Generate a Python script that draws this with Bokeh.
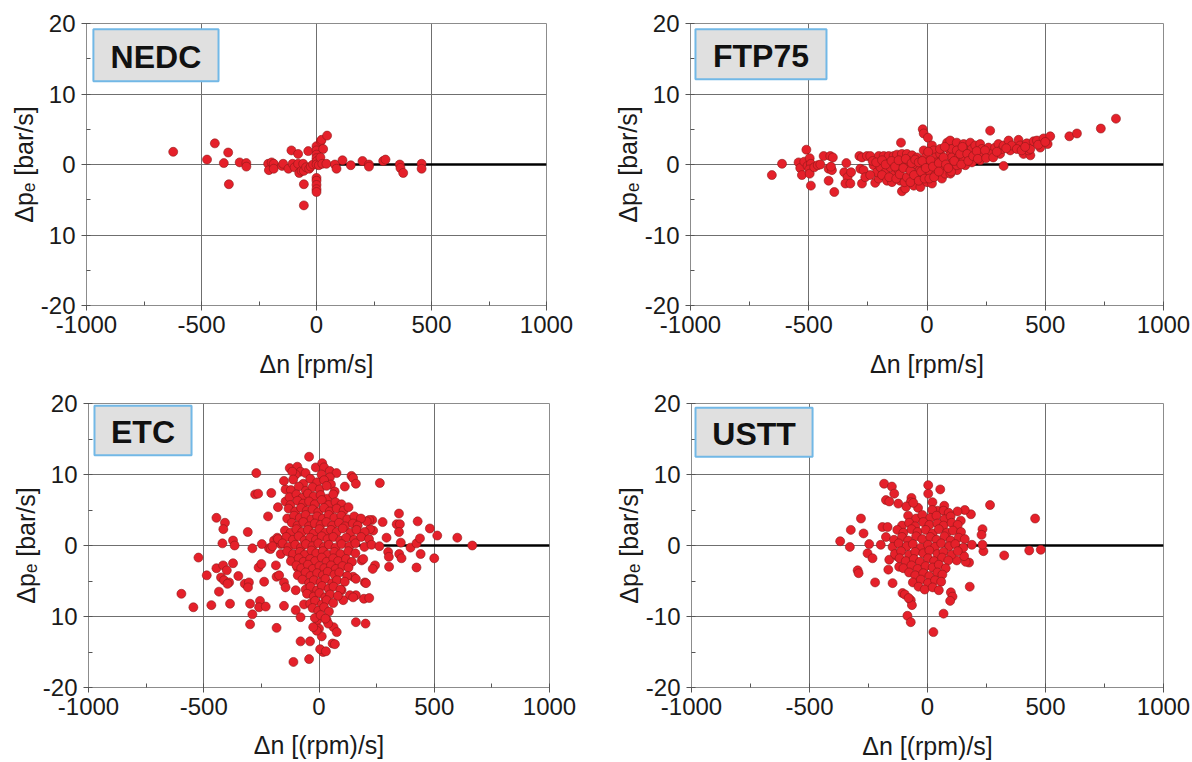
from bokeh.plotting import figure
from bokeh.layouts import column, row
from bokeh.models import FixedTicker, Range1d, BoxAnnotation, Label
from bokeh.embed import file_html
from bokeh.resources import INLINE

# ---------------- data ----------------
x_ticks = [-1000, -500, 0, 500, 1000]
x_minor = [-750, -250, 250, 750]
y_ticks = [-20, -10, 0, 10, 20]
y_minor = [-15, -5, 5, 15]
x_tick_labels = {-1000: "-1000", -500: "-500", 0: "0", 500: "500", 1000: "1000"}
y_tick_labels_a = {-20: "-20", -10: "10", 0: "0", 10: "10", 20: "20"}    # NEDC, ETC (as printed)
y_tick_labels_b = {-20: "-20", -10: "-10", 0: "0", 10: "10", 20: "20"}   # FTP75, USTT

zero_line_x = [0, 1000]
zero_line_y = [0, 0]

nedc_points = [
    (-623, 1.8), (-476, 0.7), (-442, 3.0), (-384, 1.7), (-403, 0.2), (-381, -2.8), (-334, 0.3),
    (-305, 0.2), (-305, -0.3), (-210, 0.1), (-207, -0.8), (-195, 0.3), (-186, 0.1), (-186, -0.6),
    (-150, -0.2), (-145, 0.1), (-122, -0.6), (-109, 2.0), (-104, 0.1), (-95, -0.4), (-80, 1.5),
    (-80, 0.1), (-75, -1.2), (-65, -0.9), (-58, 0.1), (-55, -0.9), (-55, -2.8), (-55, -5.8),
    (-45, -0.4), (-36, 1.9), (-32, -0.6), (-25, -0.3), (-15, 0.0), (0, 2.6), (0, 2.0), (0, 1.4),
    (0, 0.9), (2, 0.5), (0, 0.0), (0, -1.9), (0, -2.3), (0, -2.9), (0, -3.5), (0, -3.9), (10, -0.1),
    (19, 3.3), (22, 3.5), (29, 2.2), (46, 4.1), (17, 1.0), (25, 0.1), (43, 0.1), (80, 0.0),
    (87, -0.6), (113, 0.6), (149, -0.1), (200, 0.5), (228, 0.0), (228, -0.3), (290, 0.5),
    (300, 0.7), (362, 0.0), (365, -0.5), (377, -1.2), (457, 0.1), (457, -0.6),
]

ftp75_points = [
    (-656, -1.5), (-613, 0.1), (-510, 2.1), (-543, 0.3), (-536, -0.5), (-519, 0.4), (-505, -0.2),
    (-496, 0.9), (-491, 0.1), (-498, -0.7), (-529, -1.5), (-496, -1.3), (-477, -0.4), (-462, -0.1),
    (-451, 0.0), (-491, -3.0), (-437, 1.2), (-409, 1.2), (-398, 1.0), (-416, -0.6), (-402, -0.8),
    (-406, -0.3), (-416, -2.3), (-392, -3.9), (-341, 0.2), (-350, -1.1), (-336, -1.8), (-345, -2.7),
    (-324, -2.7), (-321, -1.1), (-286, 1.2), (-282, -0.6), (-275, -2.7), (-268, -0.8), (-261, -1.8),
    (-275, 1.0), (-254, 1.2), (-240, 1.2), (-226, -0.1), (-219, -2.6), (-204, -2.0), (-212, -1.1),
    (-204, 1.2), (-183, 1.2), (-162, 1.2), (-141, 1.2), (-197, -0.4), (-176, -1.1), (-190, -1.5),
    (-169, -2.3), (-155, -0.4), (-141, -1.5), (-148, -2.5), (-127, 0.3), (-120, -0.8), (-113, -2.3),
    (-106, -3.8), (-92, -3.4), (-127, 1.4), (-106, 1.5), (-85, 1.5), (-63, 1.3), (-42, 1.0),
    (-110, 3.1), (-99, 0.1), (-78, -0.4), (-63, -1.3), (-49, -2.0), (-56, -3.0), (-28, -3.2),
    (-78, 0.5), (-42, -0.1), (-31, -0.8), (-14, -1.5), (0, -2.5), (-18, 5.0), (-14, 4.4), (4, 3.8),
    (-14, 2.0), (-7, 1.0), (0, 0.3), (7, -0.4), (14, -1.1), (21, 2.7), (28, 2.0), (35, 1.0),
    (42, 0.3), (42, -0.6), (35, -1.5), (21, -2.7), (56, 1.5), (63, 0.6), (70, -0.4), (63, -2.0),
    (77, -1.3), (85, 3.1), (92, 2.2), (99, 1.3), (106, 0.3), (106, -0.6), (99, -1.3), (113, 2.9),
    (124, 2.0), (127, 1.0), (127, -0.8), (98, 3.4), (105, 2.2), (105, 1.0), (102, 0.1), (102, -1.0),
    (126, 3.1), (126, 2.0), (133, 1.0), (126, -0.1), (155, 2.9), (162, 2.0), (155, 0.8), (162, -0.1),
    (183, 3.1), (190, 2.2), (183, 1.0), (190, 0.3), (204, 2.7), (225, 2.9), (232, 2.2), (225, 0.6),
    (239, 1.5), (267, 4.8), (260, 2.4), (274, 1.5), (288, 2.4), (302, 2.9), (309, 1.5), (317, 2.2),
    (324, -0.2), (324, 2.7), (345, 3.4), (352, 2.0), (359, 2.7), (387, 3.5), (394, 2.7), (408, 1.5),
    (422, 3.0), (437, 1.3), (429, 2.0), (437, 2.2), (451, 3.3), (465, 3.4), (479, 2.4), (493, 3.7),
    (510, 2.9), (521, 4.0), (602, 4.0), (634, 4.4), (735, 5.1), (799, 6.5),
    (-240, -1.5), (-230, 0.5), (-215, 0.3), (-190, 0.6), (-175, 0.0), (-160, -1.8), (-150, 0.5),
    (-135, -0.3), (-130, -2.0), (-120, 0.6), (-115, -1.4), (-100, -0.5), (-95, -2.5), (-90, 0.8),
    (-85, -1.8), (-70, -0.9), (-70, -2.5), (-65, 0.2), (-55, -1.5), (-50, 0.7), (-35, -2.3),
    (-35, 0.3), (-25, -1.0), (-20, 0.5), (-10, -2.0), (-5, -0.5), (5, 1.8), (10, -2.0), (15, 0.6),
    (25, -0.3), (30, -1.8), (50, 0.2), (50, -1.0), (55, 2.2), (70, 1.0), (75, 2.5), (80, 0.0),
    (90, -0.5), (115, 0.5), (140, 1.5), (145, 0.0), (150, 2.5), (170, 1.5), (175, 0.5), (195, 1.2),
    (210, 1.9), (215, 0.8), (245, 2.0), (250, 0.9), (280, 1.0), (295, 1.8), (335, 2.3), (380, 2.2),
    (400, 2.0), (415, 2.5), (470, 2.8), (500, 3.2),
]

etc_points = [
    (-43, 12.5), (-127, 10.9), (-94, 11.1), (-80, 10.4), (-58, 10.2), (-101, 10.0), (-116, 10.4),
    (-14, 11.0), (14, 11.6), (22, 11.0), (-272, 10.2), (-277, 7.2), (-264, 7.3), (-207, 7.4),
    (-221, 4.1), (-178, 5.4), (-145, 6.2), (-145, 7.9), (-152, 9.1), (-445, 3.9), (-408, 3.2),
    (-415, 2.3), (-309, 1.9), (-419, 0.3), (-373, 0.7), (-366, 0.0), (-289, -0.4), (-523, -1.7),
    (-217, -0.4), (-195, 0.7), (-181, 1.1), (-166, 0.2), (-166, -1.2), (-187, -2.8), (-210, -0.5),
    (-445, -3.2), (-416, -2.8), (-400, -3.5), (-373, -2.5), (-487, -4.2), (-425, -4.5), (-412, -4.9),
    (-390, -5.2), (-397, -5.4), (-350, -4.3), (-322, -5.4), (-304, -5.2), (-308, -5.9), (-262, -3.1),
    (-250, -2.6), (-238, -5.1), (-597, -6.8), (-545, -8.7), (-467, -8.4), (-386, -8.2), (-434, -6.5),
    (-299, -8.2), (-289, -9.7), (-299, -11.1), (-256, -7.8), (-260, -8.7), (-231, -8.6), (-152, -8.5),
    (-184, -4.4), (-173, -4.2), (-152, -5.2), (-145, -5.9), (-184, -11.6), (-101, -9.1), (-80, -10.1),
    (-116, -1.6), (-94, -3.1), (-101, -6.3), (-65, -8.3), (-80, -13.5), (-39, -13.5), (-111, -16.4),
    (-43, -16.0), (-22, -6.8), (-7, -10.5), (0, -11.7), (11, 10.0), (47, 10.5), (76, 10.2),
    (141, 9.8), (148, 9.5), (47, 9.6), (112, 8.3), (160, 8.7), (264, 8.8), (347, 4.5), (428, 3.4),
    (481, 2.4), (513, 1.4), (600, 1.1), (665, 0.0), (276, 3.3), (337, 3.0), (351, 3.0), (347, 1.9),
    (231, 3.6), (218, 3.6), (293, 1.1), (355, 0.4), (397, -0.3), (423, 0.3), (438, 1.0), (300, -0.9),
    (303, -1.6), (348, -1.2), (358, -1.8), (441, -1.2), (500, -1.8), (304, -3.0), (423, -3.1),
    (243, -2.8), (233, -3.3), (199, -5.2), (195, -7.5), (218, -7.4), (160, -7.0), (134, -7.0),
    (160, -10.8), (202, -11.0), (59, -13.8), (69, -13.9), (18, -15.0), (63, -11.5), (77, -12.2),
    (33, -10.5), (98, -6.3), (105, -7.7), (148, -7.3), (148, -4.4), (160, -4.7), (204, -5.3),
    (185, -2.1), (192, -1.9), (235, 2.1), (221, 2.3), (178, 3.7), (207, 3.4),
    (5, -14.6), (30, -14.9), (12, -12.8), (-10, -12.0), (40, -11.0), (-25, -11.5),
    (-112, 9.3), (-68, 8.7), (-38, 9.4), (-8, 8.9), (22, 9.2), (52, 8.6),
    (-122, 7.8), (-88, 8.3), (-57, 7.7), (-28, 8.2), (3, 7.9), (33, 8.4), (68, 7.6),
    (-128, 6.8), (-98, 7.2), (-73, 6.7), (-48, 7.3), (-23, 6.9), (7, 7.1), (37, 6.6), (62, 7.2),
    (-124, 5.7), (-93, 6.3), (-68, 5.9), (-43, 6.2), (-18, 5.8), (12, 6.4), (42, 5.7), (72, 6.1),
    (98, 5.8), (-132, 5.2), (-103, 4.8), (-78, 5.3), (-53, 4.9), (-28, 5.1), (-3, 4.7), (22, 5.3),
    (47, 4.8), (77, 5.2), (107, 4.9), (128, 5.4), (-138, 3.8), (-108, 4.2), (-83, 3.9), (-58, 4.3),
    (-33, 3.7), (-8, 4.1), (17, 3.8), (42, 4.3), (67, 3.9), (97, 4.2), (123, 3.7), (153, 4.1),
    (182, 3.8), (-118, 3.2), (-93, 2.8), (-68, 3.3), (-43, 2.7), (-18, 3.1), (7, 2.9), (32, 3.3),
    (57, 2.8), (87, 3.2), (113, 2.7), (147, 3.1), (168, 2.8), (-148, 2.1), (-123, 1.8), (-98, 2.3),
    (-73, 1.9), (-48, 2.2), (-23, 1.7), (2, 2.3), (27, 1.8), (52, 2.2), (77, 1.9), (103, 2.4),
    (137, 1.8), (163, 2.2), (198, 1.9), (-178, 0.9), (-142, 1.2), (-113, 0.8), (-88, 1.3),
    (-63, 0.7), (-38, 1.1), (-13, 0.8), (12, 1.3), (37, 0.9), (62, 1.2), (92, 0.7), (118, 1.1),
    (152, 0.8), (183, 1.2), (217, 0.9), (-248, 0.2), (-202, -0.1), (-158, 0.3), (-132, -0.2),
    (-103, 0.1), (-78, -0.3), (-57, 0.2), (-28, -0.1), (-3, 0.3), (22, -0.2), (43, 0.1), (72, -0.3),
    (98, 0.2), (132, -0.1), (158, 0.3), (197, -0.2), (228, 0.1), (262, -0.1), (-138, -0.8),
    (-112, -1.2), (-83, -0.9), (-62, -1.3), (-33, -0.7), (-12, -1.1), (17, -0.8), (38, -1.3),
    (67, -0.9), (93, -1.2), (127, -0.8), (158, -1.1), (-122, -2.2), (-88, -1.8), (-67, -2.3),
    (-38, -1.9), (-17, -2.2), (12, -1.7), (33, -2.3), (62, -1.8), (83, -2.2), (117, -1.9),
    (143, -2.3), (-98, -2.8), (-77, -3.2), (-48, -2.7), (-27, -3.3), (2, -2.9), (23, -3.2),
    (52, -2.8), (73, -3.3), (102, -2.9), (128, -3.1), (-92, -4.2), (-58, -3.8), (-37, -4.3),
    (-8, -3.9), (17, -4.2), (38, -3.7), (67, -4.1), (88, -3.8), (122, -4.3), (-72, -4.8),
    (-43, -5.3), (-22, -4.9), (7, -5.2), (28, -4.7), (57, -5.3), (78, -4.9), (112, -5.1),
    (-58, -6.2), (-37, -5.8), (-8, -6.3), (13, -5.7), (42, -6.1), (63, -5.8), (93, -6.2),
    (-52, -6.8), (-23, -7.2), (2, -6.7), (27, -7.3), (48, -6.9), (82, -7.1), (-38, -8.2),
    (-17, -7.8), (12, -8.3), (33, -7.7), (62, -8.1), (-28, -8.8), (-3, -9.2), (22, -8.7),
    (43, -9.3), (-18, -10.2), (7, -9.8), (28, -10.3),
]

ustt_points = [
    (-184, 8.7), (-151, 8.3), (-141, 7.3), (3, 8.5), (3, 7.3), (54, 7.9), (-176, 6.4), (-162, 6.2),
    (-124, 5.9), (-68, 6.7), (-71, 6.1), (21, 6.1), (42, 4.9), (71, 5.6), (68, 4.9), (265, 5.7),
    (456, 3.8), (-282, 3.8), (-325, 2.2), (-271, 1.7), (-370, 0.6), (-329, -0.2), (-247, 0.2),
    (-254, -1.1), (-233, -1.8), (-296, -3.5), (-292, -3.9), (-222, -5.2), (-166, -3.4), (-148, -5.3),
    (-106, -6.7), (-96, -6.9), (-71, -7.7), (-66, -8.4), (-80, -7.4), (-85, -9.9), (-71, -10.8),
    (25, -12.2), (68, -9.6), (99, -6.6), (106, -7.2), (96, -7.8), (179, -5.8), (325, -1.4),
    (431, -0.7), (480, -0.6), (184, 4.4), (158, 5.0), (127, 4.8), (141, 3.5), (233, 2.3), (229, 1.5),
    (237, -0.8), (233, 0.1), (176, -2.4), (162, -2.3), (124, -2.1), (155, -1.5), (-191, 2.6),
    (-169, 2.6), (-198, 0.1), (-176, 1.2), (-162, -2.0), (-90, 5.5), (-40, 5.3), (20, 5.0),
    (90, 4.6), (-60, 6.0), (-120, -3.0), (-130, -1.5),
    (-82, 4.2), (-48, 3.8), (-22, 4.3), (12, 3.9), (38, 4.2), (72, 3.7), (98, 4.1),
    (-108, 2.8), (-78, 3.2), (-52, 2.7), (-18, 3.3), (8, 2.9), (42, 3.1), (68, 2.8), (102, 3.2),
    (128, 2.9), (-128, 2.2), (-102, 1.8), (-68, 2.3), (-42, 1.9), (-8, 2.2), (22, 1.7), (48, 2.3),
    (82, 1.8), (108, 2.1), (142, 1.9), (-142, 0.8), (-108, 1.2), (-82, 0.7), (-48, 1.3), (-22, 0.9),
    (12, 1.2), (38, 0.8), (72, 1.3), (98, 0.7), (132, 1.1), (158, 0.9), (-148, -0.2), (-122, 0.3),
    (-88, -0.1), (-62, 0.2), (-28, -0.3), (2, 0.1), (32, -0.2), (58, 0.3), (92, -0.1), (118, 0.2),
    (152, -0.3), (188, 0.1), (-138, -1.2), (-112, -0.8), (-78, -1.3), (-52, -0.9), (-18, -1.1),
    (8, -0.7), (42, -1.2), (68, -0.9), (102, -1.3), (128, -0.8), (-118, -1.8), (-92, -2.2),
    (-58, -1.9), (-32, -2.3), (2, -1.8), (28, -2.2), (62, -1.7), (88, -2.1), (-102, -3.2),
    (-68, -2.8), (-42, -3.3), (-8, -2.9), (22, -3.1), (48, -2.7), (77, -3.2), (-78, -3.8),
    (-52, -4.2), (-18, -3.9), (8, -4.3), (42, -3.8), (63, -4.1), (-62, -5.2), (-28, -4.8),
    (2, -5.3), (32, -4.9), (58, -5.1), (-38, -5.8), (-12, -6.2), (22, -5.9), (48, -6.3),
]

cycle_names = ["NEDC", "FTP75", "ETC", "USTT"]
x_titles = ["\u0394n [rpm/s]", "\u0394n [rpm/s]", "\u0394n [(rpm)/s]", "\u0394n [(rpm)/s]"]
y_title = "\u0394p\u2091 [bar/s]"

# ---------------- styling / layout ----------------
FONT = "Liberation Sans"
RED = "#e5202a"
RED_EDGE = "#8e1a1a"
GRID = "#6f6f6f"
FRAME = "#8c8c8c"

# per panel: borders (left, right, top, bottom), title box (left, right, top, bottom) in data units
panels = [
    dict(border=(86, 50, 21, 76), box=(-970, -426, 19.2, 11.8), ylab=y_tick_labels_a, xstand=14),
    dict(border=(94, 29, 23, 74), box=(-979, -425, 19.2, 12.1), ylab=y_tick_labels_b, xstand=14),
    dict(border=(88, 47, 22, 74), box=(-974, -553, 19.7, 12.7), ylab=y_tick_labels_a, xstand=13),
    dict(border=(95, 29, 22, 70), box=(-983, -487, 19.4, 12.5), ylab=y_tick_labels_b, xstand=14),
]
all_points = [nedc_points, ftp75_points, etc_points, ustt_points]


def make_panel(i):
    cfg = panels[i]
    bl, br, bt, bb = cfg["border"]
    p = figure(width=596, height=381, x_range=Range1d(-1000, 1000), y_range=Range1d(-20, 20),
               output_backend="svg", toolbar_location=None,
               min_border_left=bl, min_border_right=br, min_border_top=bt, min_border_bottom=bb,
               background_fill_color="white", border_fill_color="white")
    p.outline_line_color = FRAME
    p.outline_line_width = 1

    p.xaxis.ticker = FixedTicker(ticks=x_ticks, minor_ticks=x_minor)
    p.yaxis.ticker = FixedTicker(ticks=y_ticks, minor_ticks=y_minor)
    p.xaxis.major_label_overrides = x_tick_labels
    p.yaxis.major_label_overrides = cfg["ylab"]

    for ax in (p.xaxis[0], p.yaxis[0]):
        ax.axis_line_color = FRAME
        ax.major_tick_line_color = "#555555"
        ax.minor_tick_line_color = "#555555"
        ax.major_tick_in = 4
        ax.major_tick_out = 5
        ax.minor_tick_in = 4
        ax.minor_tick_out = 0
        ax.major_label_text_font = FONT
        ax.major_label_text_font_size = "24px"
        ax.major_label_text_color = "#1a1a1a"
        ax.axis_label_text_font = FONT
        ax.axis_label_text_font_size = "25px"
        ax.axis_label_text_font_style = "normal"
        ax.axis_label_text_color = "#1a1a1a"
    p.xaxis.major_label_standoff = 5
    p.xaxis.axis_label_standoff = cfg["xstand"]
    p.yaxis.major_label_standoff = 6
    p.yaxis.axis_label_standoff = 0
    p.xaxis.axis_label = x_titles[i]
    p.yaxis.axis_label = y_title

    p.xgrid.grid_line_color = GRID
    p.ygrid.grid_line_color = GRID
    p.xgrid.grid_line_width = 1
    p.ygrid.grid_line_width = 1

    p.line(zero_line_x, zero_line_y, line_color="black", line_width=2.5)

    pts = all_points[i]
    xs = [a for a, b in pts]
    ys = [b for a, b in pts]
    p.scatter(xs, ys, marker="circle", size=9, fill_color=RED, line_color=RED_EDGE,
              line_width=0.6)

    l, r, t, b = cfg["box"]
    p.add_layout(BoxAnnotation(left=l, right=r, top=t, bottom=b, fill_color="#e0e0e0",
                               fill_alpha=1.0, line_color="#72b8e6", line_width=2,
                               line_alpha=1.0))
    p.add_layout(Label(x=(l + r) / 2, y=(t + b) / 2 - 0.2, text=cycle_names[i],
                       text_align="center", text_baseline="middle", text_font=FONT,
                       text_font_style="bold", text_font_size="32px", text_color="#111111"))
    return p


plots = [make_panel(i) for i in range(4)]
layout = column(row(plots[0], plots[1]), row(plots[2], plots[3]))

open("out.html", "w").write(file_html(layout, INLINE))
